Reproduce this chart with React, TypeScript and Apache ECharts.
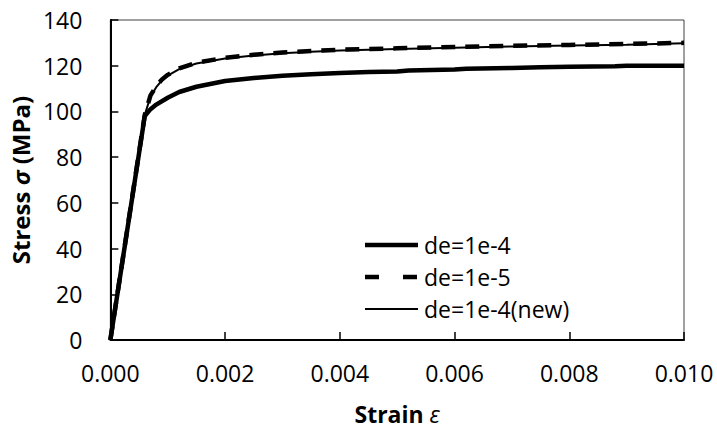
import React, { useEffect, useRef } from "react";
import * as echarts from "echarts";

const seriesNames = ["de=1e-4", "de=1e-5", "de=1e-4(new)"];

const strainLow = [0, 0.0006, 0.0007, 0.0008, 0.001, 0.0012, 0.0015, 0.002, 0.0025, 0.003, 0.0035, 0.004, 0.0045, 0.005, 0.0052, 0.006, 0.0062, 0.007, 0.0075, 0.008, 0.0088, 0.009, 0.01];
const stressLow = [0, 98, 101, 103, 106, 108.5, 110.8, 113.3, 114.6, 115.6, 116.3, 116.8, 117.2, 117.5, 117.9, 118.3, 118.7, 119, 119.3, 119.5, 119.8, 120, 120];

const strainFine = [0, 0.0006, 0.0007, 0.0008, 0.0009, 0.001, 0.0012, 0.0015, 0.002, 0.0025, 0.003, 0.0035, 0.004, 0.005, 0.006, 0.007, 0.008, 0.009, 0.01];
const stressFine = [0, 98.5, 107, 111, 114, 116, 118.8, 121.3, 123.5, 124.8, 125.8, 126.4, 127, 127.6, 128.2, 128.7, 129.1, 129.5, 130];

const strainNew = [0, 0.0006, 0.0007, 0.0008, 0.0009, 0.001, 0.0012, 0.0015, 0.002, 0.0025, 0.003, 0.0035, 0.004, 0.005, 0.006, 0.007, 0.008, 0.009, 0.01];
const stressNew = [0, 98.5, 106.5, 110.6, 113.6, 115.7, 118.5, 121, 123.2, 124.5, 125.5, 126.1, 126.7, 127.3, 127.9, 128.4, 128.8, 129.2, 129.8];

const xTicks = { min: 0, max: 0.01, interval: 0.002 };
const yTicks = { min: 0, max: 140, interval: 20 };

const zip = (xs: number[], ys: number[]) => xs.map((x, i) => [x, ys[i]]);

const FONT = "'Open Sans', 'Noto Sans', sans-serif";

const lineStyles = [
  { width: 4.5, lineDash: null as number[] | null, legendDash: null as number[] | null },
  { width: 4.5, lineDash: [14, 10], legendDash: [14, 24] },
  { width: 2, lineDash: null as number[] | null, legendDash: null as number[] | null },
];

export default function App() {
  const ref = useRef<HTMLDivElement>(null);
  useEffect(() => {
    if (!ref.current) return;
    const chart = echarts.init(ref.current, undefined, { renderer: "svg" });
    const legendX = 365;
    const legendY0 = 245;
    const legendStep = 32;
    const legendGraphics: any[] = [];
    seriesNames.forEach((name, i) => {
      const y = legendY0 + i * legendStep;
      legendGraphics.push({
        type: "line",
        shape: { x1: legendX, y1: y, x2: legendX + 53, y2: y },
        style: {
          stroke: "#000",
          lineWidth: lineStyles[i].width,
          lineDash: lineStyles[i].legendDash || undefined,
        },
        z: 10,
      });
      legendGraphics.push({
        type: "text",
        x: legendX + 59,
        y,
        style: {
          text: name,
          fill: "#000",
          font: `23px ${FONT}`,
          verticalAlign: "middle",
          align: "left",
        },
        z: 10,
      });
    });
    chart.setOption({
      animation: false,
      backgroundColor: "#ffffff",
      grid: {
        left: 107,
        right: 33,
        top: 20,
        bottom: 83,
        show: true,
        borderColor: "#404040",
        borderWidth: 1,
      },
      graphic: legendGraphics,
      xAxis: {
        type: "value",
        min: xTicks.min,
        max: xTicks.max,
        interval: xTicks.interval,
        name: "{b|Strain }{i|ε}",
        nameLocation: "middle",
        nameGap: 62,
        nameTextStyle: {
          rich: {
            b: { fontFamily: FONT, fontSize: 23, fontWeight: "bold", color: "#000" },
            i: { fontFamily: FONT, fontSize: 23, fontStyle: "italic", color: "#000" },
          },
        },
        axisLine: { show: true, onZero: false, lineStyle: { color: "#000", width: 2 } },
        axisTick: { show: true, inside: true, length: 8, lineStyle: { color: "#000", width: 1.5 } },
        axisLabel: {
          fontFamily: FONT,
          fontSize: 23,
          color: "#000",
          margin: 21,
          formatter: (v: number) => v.toFixed(3),
        },
        splitLine: { show: false },
      },
      yAxis: {
        type: "value",
        min: yTicks.min,
        max: yTicks.max,
        interval: yTicks.interval,
        name: "{b|Stress }{i|σ}{b| (MPa)}",
        nameLocation: "middle",
        nameGap: 76,
        nameRotate: 90,
        nameTextStyle: {
          rich: {
            b: { fontFamily: FONT, fontSize: 24, fontWeight: "bold", color: "#000" },
            i: { fontFamily: FONT, fontSize: 24, fontStyle: "italic", fontWeight: "bold", color: "#000" },
          },
        },
        axisLine: { show: true, onZero: false, lineStyle: { color: "#000", width: 2 } },
        axisTick: { show: true, inside: true, length: 8, lineStyle: { color: "#000", width: 1.5 } },
        axisLabel: { fontFamily: FONT, fontSize: 23, color: "#000", margin: 28 },
        splitLine: { show: false },
      },
      series: [
        {
          name: seriesNames[0],
          type: "line",
          data: zip(strainLow, stressLow),
          showSymbol: false,
          symbol: "none",
          lineStyle: { color: "#000", width: lineStyles[0].width, type: "solid" },
          itemStyle: { color: "#000" },
          z: 3,
        },
        {
          name: seriesNames[1],
          type: "line",
          data: zip(strainFine, stressFine),
          showSymbol: false,
          symbol: "none",
          lineStyle: { color: "#000", width: lineStyles[1].width, type: lineStyles[1].lineDash },
          itemStyle: { color: "#000" },
          z: 4,
        },
        {
          name: seriesNames[2],
          type: "line",
          data: zip(strainNew, stressNew),
          showSymbol: false,
          symbol: "none",
          lineStyle: { color: "#000", width: lineStyles[2].width, type: "solid" },
          itemStyle: { color: "#000" },
          z: 5,
        },
      ],
    });
    return () => chart.dispose();
  }, []);
  return <div ref={ref} style={{ width: 717, height: 430, position: "absolute", left: 0, top: 0 }} />;
}
